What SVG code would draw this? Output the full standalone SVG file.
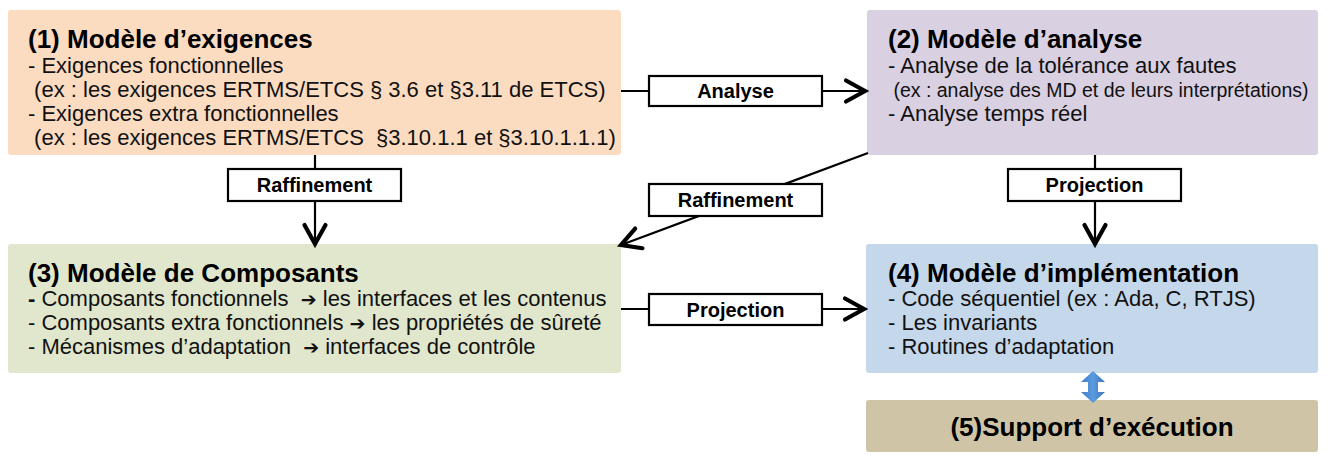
<svg xmlns="http://www.w3.org/2000/svg" width="1329" height="456" viewBox="0 0 1329 456">
  <style>
    text { font-family: "Liberation Sans", Arial, sans-serif; fill: #111; white-space: pre; }
    .title { font-size: 26px; font-weight: bold; fill: #000; }
    .body { font-size: 22px; }
    .small { font-size: 19.5px; }
    .lbl { font-size: 20px; font-weight: bold; text-anchor: middle; fill: #000; }
    .arr { font-family: "DejaVu Sans", sans-serif; font-weight: bold; font-size: 19px; }
    .conn { stroke: #000; stroke-width: 2.2; fill: none; }
    .lblbox { fill: #fff; stroke: #000; stroke-width: 2.2; }
  </style>
  <defs>
    <marker id="chev" markerUnits="userSpaceOnUse" markerWidth="30" markerHeight="30" viewBox="0 0 30 30" refX="22" refY="15" orient="auto">
      <path d="M3,4.5 L22,15 L3,25.5" fill="none" stroke="#000" stroke-width="4.2" stroke-linejoin="miter" stroke-linecap="round"/>
    </marker>
    <linearGradient id="blueg" x1="0" y1="0" x2="1" y2="0">
      <stop offset="0" stop-color="#3f7dc4"/>
      <stop offset="0.5" stop-color="#5b9be0"/>
      <stop offset="1" stop-color="#3a74b8"/>
    </linearGradient>
  </defs>

  <g id="node1">
    <rect x="8" y="10" width="613" height="145" rx="3" fill="#fbdcc1"/>
    <text class="title" x="28" y="48">(1) Modèle d’exigences</text>
    <text class="body" x="28" y="73">- Exigences fonctionnelles</text>
    <text class="body" x="28" y="97"> (ex : les exigences ERTMS/ETCS § 3.6 et §3.11 de ETCS)</text>
    <text class="body" x="28" y="121">- Exigences extra fonctionnelles</text>
    <text class="body" x="28" y="145"> (ex : les exigences ERTMS/ETCS  §3.10.1.1 et §3.10.1.1.1)</text>
  </g>

  <g id="node2">
    <rect x="867" y="10" width="451" height="145" rx="3" fill="#d9d0e2"/>
    <text class="title" x="888" y="48">(2) Modèle d’analyse</text>
    <text class="body" x="888" y="73">- Analyse de la tolérance aux fautes</text>
    <text class="small" x="888" y="97"> (ex : analyse des MD et de leurs interprétations)</text>
    <text class="body" x="888" y="121">- Analyse temps réel</text>
  </g>

  <g id="node3">
    <rect x="8" y="244" width="613" height="129" rx="3" fill="#e0e7cc"/>
    <text class="title" x="28" y="282">(3) Modèle de Composants</text>
    <text class="body" x="28" y="306"><tspan font-weight="bold">-</tspan> Composants fonctionnels  <tspan class="arr">➔</tspan> les interfaces et les contenus</text>
    <text class="body" x="28" y="330">- Composants extra fonctionnels <tspan class="arr">➔</tspan> les propriétés de sûreté</text>
    <text class="body" x="28" y="354">- Mécanismes d’adaptation  <tspan class="arr">➔</tspan> interfaces de contrôle</text>
  </g>

  <g id="node4">
    <rect x="866" y="244" width="452" height="129" rx="3" fill="#c5d7ea"/>
    <text class="title" x="888" y="282">(4) Modèle d’implémentation</text>
    <text class="body" x="888" y="306">- Code séquentiel (ex : Ada, C, RTJS)</text>
    <text class="body" x="888" y="330">- Les invariants</text>
    <text class="body" x="888" y="354">- Routines d’adaptation</text>
  </g>

  <g id="node5">
    <rect x="866" y="400" width="452" height="52" rx="3" fill="#cfc5a6"/>
    <text class="title" x="1092" y="436" text-anchor="middle">(5)Support d’exécution</text>
  </g>

  <g id="connectors">
    <!-- Analyse -->
    <line class="conn" x1="621" y1="91" x2="865" y2="91" marker-end="url(#chev)"/>
    <rect class="lblbox" x="649" y="76" width="173" height="30"/>
    <text class="lbl" x="735.5" y="98">Analyse</text>
    <!-- Raffinement vertical -->
    <line class="conn" x1="315" y1="155" x2="315" y2="244" marker-end="url(#chev)"/>
    <rect class="lblbox" x="228" y="169" width="173" height="32"/>
    <text class="lbl" x="314.5" y="192">Raffinement</text>
    <!-- Projection vertical -->
    <line class="conn" x1="1095" y1="155" x2="1095" y2="244" marker-end="url(#chev)"/>
    <rect class="lblbox" x="1008" y="169" width="173" height="32"/>
    <text class="lbl" x="1094.5" y="192">Projection</text>
    <!-- Raffinement diagonal -->
    <line class="conn" x1="868" y1="153" x2="621" y2="245" marker-end="url(#chev)"/>
    <rect class="lblbox" x="649" y="184" width="173" height="32"/>
    <text class="lbl" x="735.5" y="207">Raffinement</text>
    <!-- Projection horizontal -->
    <line class="conn" x1="621" y1="309" x2="864" y2="309" marker-end="url(#chev)"/>
    <rect class="lblbox" x="649" y="294" width="173" height="31"/>
    <text class="lbl" x="735.5" y="317">Projection</text>
    <!-- double arrow between (4) and (5) -->
    <polygon fill="url(#blueg)" points="1093,371 1105,382 1098,382 1098,392 1105,392 1093,403 1081,392 1088,392 1088,382 1081,382"/>
  </g>
</svg>
